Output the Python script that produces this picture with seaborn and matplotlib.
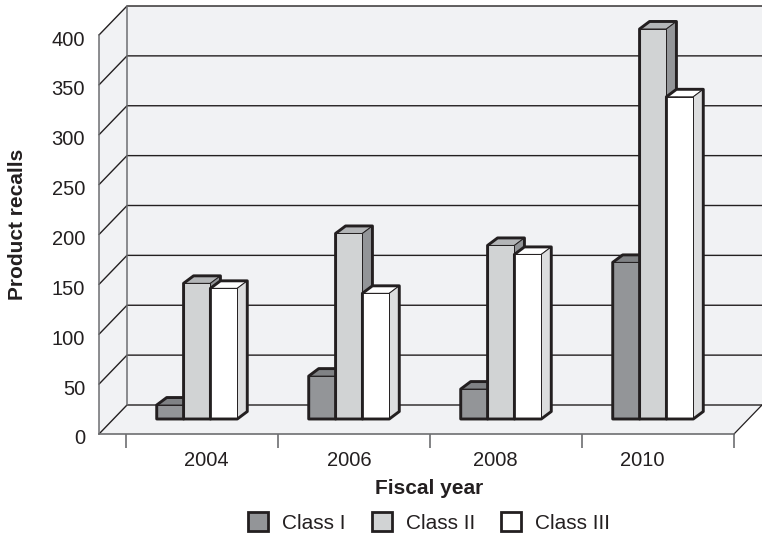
import matplotlib
matplotlib.use("Agg")
import matplotlib.pyplot as plt
from matplotlib.patches import Polygon
from matplotlib.transforms import ScaledTranslation
import pandas as pd
import seaborn as sns

years = ["2004", "2006", "2008", "2010"]
class_names = ["Class I", "Class II", "Class III"]
class_i = [14, 43, 30, 157]
class_ii = [136, 186, 174, 391]
class_iii = [131, 126, 165, 323]
y_ticks = [0, 50, 100, 150, 200, 250, 300, 350, 400]

front_colors = ["#939598", "#d1d3d4", "#ffffff"]
top_colors = ["#808285", "#b3b5b7", "#ffffff"]
side_colors = ["#77797c", "#939598", "#dcddde"]
INK = "#231f20"
WALL = "#f1f2f4"
RULE = "#6d6e71"

sns.set_theme(style="white")
plt.rcParams["font.family"] = ["Liberation Sans", "DejaVu Sans"]

frame = pd.DataFrame({
    "year": years * 3,
    "cls": [c for c in class_names for _ in years],
    "recalls": class_i + class_ii + class_iii,
})

W, H = 762, 538
fig = plt.figure(figsize=(W / 100, H / 100), dpi=100, facecolor="white")
ax = fig.add_axes([99 / W, (H - 434) / H, 635 / W, 399 / H])
ax.patch.set_visible(False)

sns.barplot(
    data=frame, x="year", y="recalls", hue="cls", order=years, hue_order=class_names,
    palette=front_colors, width=0.53, gap=0, saturation=1, errorbar=None,
    edgecolor=INK, linewidth=0.7, ax=ax,
)

# Scale between pixels and data units
px_x, px_y = 152.0, 399 / 400
x_left, x_right = (99 - 197) / px_x, (734 - 197) / px_x
ax.set_xlim(x_left, x_right)
ax.set_ylim(0, 400)


def dx(px):
    return px / px_x


def dy(px):
    return px / px_y


# Box walls and floor
wall_dx, wall_dy = dx(28), dy(29)
walls = [
    [(x_left, 0), (x_right, 0), (x_right + wall_dx, wall_dy), (x_left + wall_dx, wall_dy)],
    [(x_left, 0), (x_left + wall_dx, wall_dy), (x_left + wall_dx, 400 + wall_dy), (x_left, 400)],
    [(x_left + wall_dx, wall_dy), (x_right + wall_dx, wall_dy),
     (x_right + wall_dx, 400 + wall_dy), (x_left + wall_dx, 400 + wall_dy)],
]
for corners in walls:
    ax.add_patch(Polygon(corners, closed=True, fc=WALL, ec="none", zorder=0.2, clip_on=False))

for v in y_ticks:
    ax.plot([x_left, x_left + wall_dx, x_right + wall_dx], [v, v + wall_dy, v + wall_dy],
            color=INK, lw=1.0, zorder=0.5, clip_on=False, solid_joinstyle="miter")
ax.plot([x_left + wall_dx] * 2, [wall_dy, 400 + wall_dy], color=RULE, lw=1.1, zorder=0.6, clip_on=False)
ax.plot([x_right, x_right + wall_dx], [0, wall_dy], color=INK, lw=0.9, zorder=0.6, clip_on=False)

# Raise bars onto the floor and extrude them backwards
lift = dy(15)
depth_x, depth_y = dx(10), dy(7.5)
for cls_idx, container in enumerate(ax.containers):
    for bar in container:
        x0, w, h = bar.get_x(), bar.get_width(), bar.get_height()
        year_idx = round(x0 + w / 2 + (1 - cls_idx) * w)
        z = 2 + year_idx * 10 + cls_idx * 2
        y0, y1 = lift, lift + h
        x1 = x0 + w
        bar.set_y(y0)
        bar.set_zorder(z + 0.2)
        bar.set_linewidth(0.7)
        bar.set_clip_on(False)
        ax.add_patch(Polygon(
            [(x0, y1), (x1, y1), (x1 + depth_x, y1 + depth_y), (x0 + depth_x, y1 + depth_y)],
            fc=top_colors[cls_idx], ec=INK, lw=0.7, zorder=z, clip_on=False))
        ax.add_patch(Polygon(
            [(x1, y0), (x1 + depth_x, y0 + depth_y), (x1 + depth_x, y1 + depth_y), (x1, y1)],
            fc=side_colors[cls_idx], ec=INK, lw=0.7, zorder=z, clip_on=False))
        ax.add_patch(Polygon(
            [(x0, y0), (x1, y0), (x1 + depth_x, y0 + depth_y), (x1 + depth_x, y1 + depth_y),
             (x0 + depth_x, y1 + depth_y), (x0, y1)],
            fc="none", ec=INK, lw=2.1, joinstyle="round", zorder=z + 0.4, clip_on=False))

sns.despine(ax=ax, top=True, right=True, left=False, bottom=False)
ax.spines["left"].set(color=RULE, linewidth=1.1, zorder=0.7)
ax.spines["bottom"].set(color=RULE, linewidth=1.2, zorder=0.7)

# Axis ticks: marks fall between groups, year labels sit on minor locations
boundaries = [(px - 197) / px_x for px in (126, 278, 430, 582, 734)]
label_spots = [(px - 197) / px_x for px in (206, 349, 495, 642)]
ax.set_xticks(boundaries, labels=[""] * len(boundaries))
ax.set_xticks(label_spots, labels=years, minor=True)
ax.tick_params(axis="x", which="major", length=10, width=1.2, color=RULE, bottom=True)
ax.tick_params(axis="x", which="minor", length=0, pad=12, labelsize=14.5, labelcolor=INK, bottom=True)
ax.set_yticks(y_ticks)
ax.tick_params(axis="y", length=0, pad=10, labelsize=14.5, labelcolor=INK, left=True)

# Value labels sit slightly below their rules
nudge = ScaledTranslation(0, -3 / 100, fig.dpi_scale_trans)
for label in ax.get_yticklabels():
    label.set_transform(label.get_transform() + nudge)

ax.set_xlabel("Fiscal year", fontsize=15, fontweight="bold", color=INK)
ax.xaxis.set_label_coords((429 - 99) / 635, (434 - 479) / 399)
ax.set_ylabel("Product recalls", fontsize=15, fontweight="bold", color=INK)
ax.yaxis.set_label_coords((27 - 99) / 635, (434 - 224) / 399)

handles = ax.get_legend().legend_handles
for handle in handles:
    handle.set_edgecolor(INK)
    handle.set_linewidth(2.0)
ax.get_legend().remove()
fig.legend(
    handles, class_names, ncol=3, frameon=False, fontsize=15, labelcolor=INK,
    loc="center", bbox_to_anchor=(429 / W, (H - 522.5) / H),
    handlelength=0.96, handleheight=0.96, handletextpad=0.66, columnspacing=1.25,
    borderpad=0, borderaxespad=0,
)

fig.savefig("out.png", dpi=100, facecolor="white")
